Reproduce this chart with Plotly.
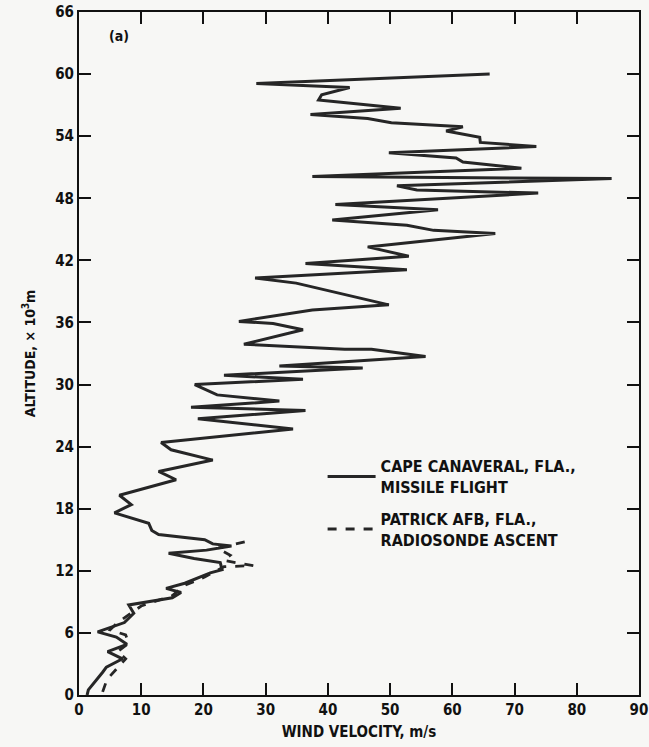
import plotly.graph_objects as go

# Cape Canaveral, missile flight (wind velocity m/s, altitude x10^3 m), traced top to bottom
cape_velocity = [66.0, 28.5, 43.5, 39.0, 38.5, 51.7, 37.2, 46.4, 50.2, 61.7, 59.0, 64.4, 64.5, 73.5,
                 49.8, 60.6, 61.7, 71.1, 37.5, 85.6, 51.1, 54.3, 73.8, 41.2, 57.7, 40.7, 52.7, 57.0,
                 66.9, 46.4, 53.0, 36.4, 52.7, 28.3, 34.9, 49.8, 37.5, 25.7, 31.2, 36.0, 26.5, 42.7,
                 47.0, 55.7, 32.2, 45.6, 23.3, 36.0, 18.6, 22.2, 32.2, 18.0, 36.4, 19.1, 34.4, 13.2,
                 14.8, 21.5, 12.8, 15.6, 6.5, 8.4, 5.7, 11.2, 11.7, 12.8, 20.2, 21.5, 24.5, 20.5,
                 14.4, 18.5, 22.7, 23.0, 21.1, 17.0, 14.0, 16.4, 15.0, 8.0, 8.8, 7.3, 3.0, 6.0, 7.7,
                 4.6, 7.0, 4.4, 3.8, 2.5, 1.5, 1.3]
cape_altitude = [60.0, 59.1, 58.7, 58.0, 57.5, 56.7, 56.1, 55.7, 55.3, 54.9, 54.5, 53.9, 53.4, 53.0,
                 52.4, 51.9, 51.5, 50.9, 50.1, 49.9, 49.2, 48.8, 48.5, 47.4, 46.9, 45.9, 45.4, 44.9,
                 44.6, 43.3, 42.4, 41.7, 41.1, 40.3, 39.8, 37.7, 37.2, 36.1, 35.9, 35.3, 33.9, 33.4,
                 33.4, 32.7, 31.8, 31.6, 30.9, 30.5, 30.0, 29.0, 28.4, 27.8, 27.5, 26.7, 25.7, 24.4,
                 23.7, 22.7, 21.6, 20.8, 19.3, 18.4, 17.6, 16.6, 15.9, 15.5, 15.0, 14.6, 14.4, 14.0,
                 13.7, 13.2, 12.8, 12.1, 11.8, 10.8, 10.3, 9.9, 9.4, 8.7, 7.9, 7.0, 6.1, 5.6, 4.9,
                 4.2, 3.5, 2.7, 2.2, 1.3, 0.5, 0.0]

# Patrick AFB, radiosonde ascent
patrick_velocity = [3.8, 4.5, 6.0, 7.5, 6.2, 8.0, 7.5, 5.0, 6.2, 8.5, 10.0, 15.0, 17.0, 20.2, 23.3,
                    28.0, 23.3, 24.3, 22.2, 26.7]
patrick_altitude = [0.3, 1.5, 2.5, 3.5, 4.2, 5.0, 5.8, 6.3, 7.0, 8.0, 8.6, 9.6, 10.6, 11.4, 12.4,
                    12.5, 13.0, 13.5, 14.2, 14.8]

x_ticks = [0, 10, 20, 30, 40, 50, 60, 70, 80, 90]
y_ticks = [0, 6, 12, 18, 24, 30, 36, 42, 48, 54, 60, 66]

INK = "#262626"
FONT = "Liberation Sans Narrow, Arial Narrow, DejaVu Sans Condensed, sans-serif"

fig = go.Figure()
fig.add_trace(go.Scatter(x=cape_velocity, y=cape_altitude, mode="lines",
                         line=dict(color=INK, width=3), legendgroup="cape",
                         name="CAPE CANAVERAL, FLA.,<br>MISSILE FLIGHT"))
fig.add_trace(go.Scatter(x=patrick_velocity, y=patrick_altitude, mode="lines",
                         line=dict(color=INK, width=2.8, dash="dash"), legendgroup="patrick",
                         name="PATRICK AFB, FLA.,<br>RADIOSONDE ASCENT"))

axis_common = dict(showline=True, linecolor="#111", linewidth=2, mirror="ticks",
                   ticks="inside", ticklen=12, tickwidth=2, tickcolor="#111",
                   showgrid=False, zeroline=False, ticklabeloverflow="allow",
                   tickfont=dict(family=FONT, size=15, color="#111", weight="bold"))

fig.update_xaxes(range=[0, 90], tickvals=x_ticks, ticktext=[str(v) for v in x_ticks],
                 title=dict(text="WIND VELOCITY, m/s", standoff=8,
                            font=dict(family=FONT, size=15, color="#111", weight="bold")),
                 **axis_common)
fig.update_yaxes(range=[0, 66], tickvals=y_ticks, ticktext=[str(v) for v in y_ticks],
                 title=dict(text="ALTITUDE, × 10<sup>3</sup>m", standoff=16,
                            font=dict(family=FONT, size=14, color="#111", weight="bold")),
                 **axis_common)

fig.add_annotation(text="(a)", xref="paper", yref="paper", x=0.05, y=0.965,
                   showarrow=False, xanchor="left", yanchor="middle",
                   font=dict(family=FONT, size=14, color="#111", weight="bold"))

fig.update_layout(
    width=649, height=747,
    margin=dict(l=79, r=1, t=12, b=52),
    paper_bgcolor="#f7f7f5", plot_bgcolor="#f7f7f5",
    showlegend=True,
    legend=dict(x=0.435, y=0.36, xanchor="left", yanchor="top", traceorder="grouped",
                bgcolor="rgba(0,0,0,0)", tracegroupgap=8, itemwidth=48,
                font=dict(family=FONT, size=16, color="#111", weight="bold")),
)

fig.write_html("out.html")
